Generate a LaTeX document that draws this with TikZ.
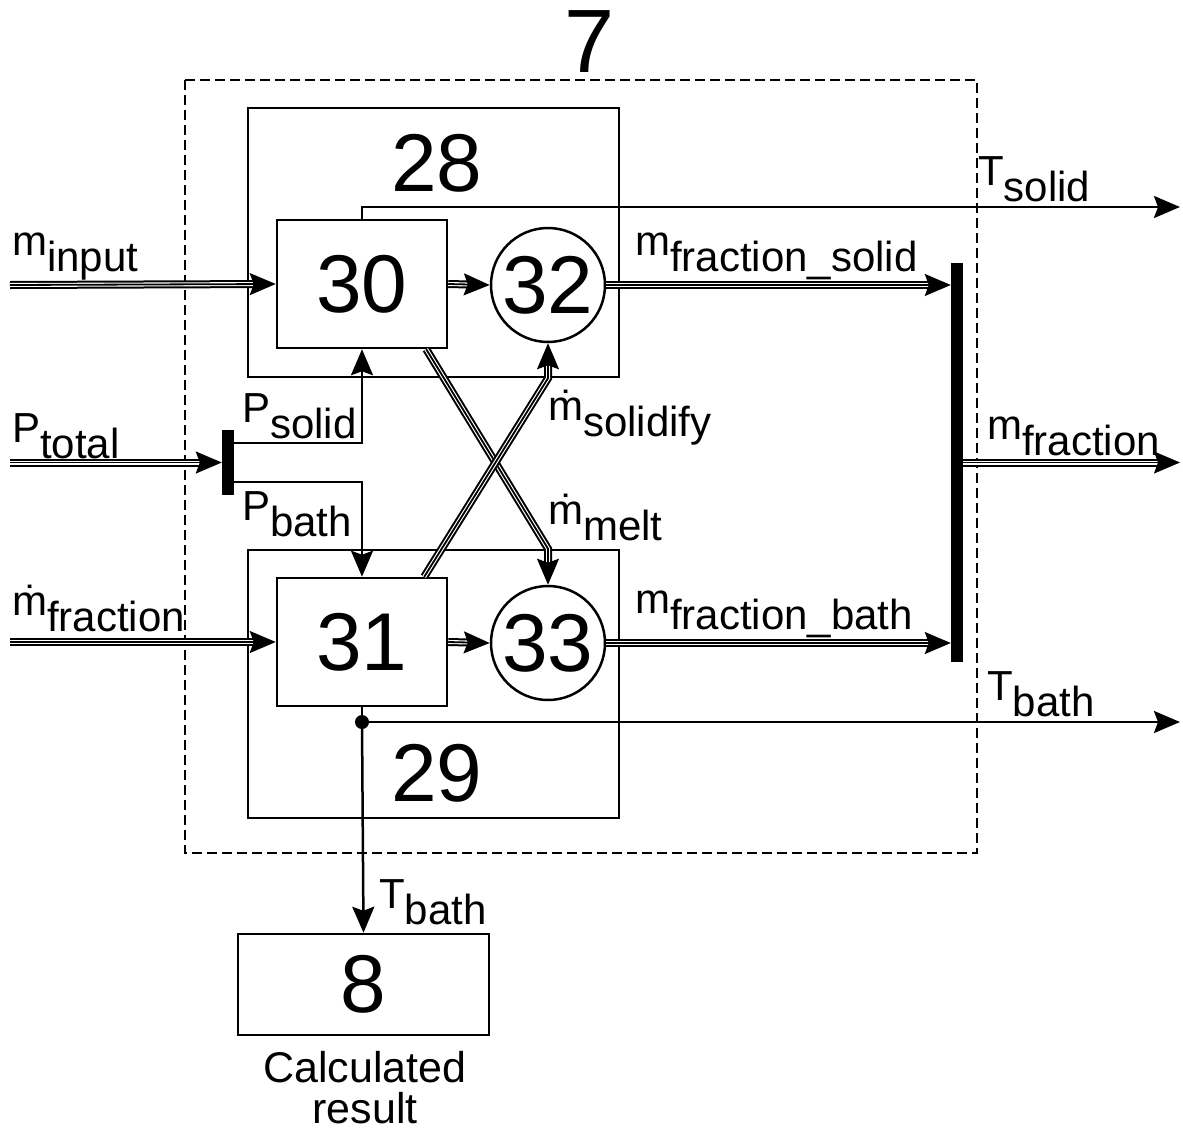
\documentclass[tikz,border=0pt]{standalone}
\usepackage{fontspec}
\setmainfont{Liberation Sans}
\usetikzlibrary{arrows.meta}
\newcommand\lowr[1]{\raisebox{-16pt}{#1}}

\begin{document}
\begin{tikzpicture}[x=1pt,y=-1pt,
  tip/.tip={Stealth[length=26pt,width=22pt,inset=4pt]},
  box/.style={draw,line width=2.5pt,rectangle,inner sep=0pt},
  ring/.style={draw,line width=2.5pt,circle,inner sep=0pt,minimum size=114pt},
  bar/.style={fill=black,rectangle,inner sep=0pt,minimum width=12pt},
  big/.style={font=\fontsize{82}{82}\selectfont},
  lbl/.style={font=\fontsize{42}{42}\selectfont,anchor=base west,inner sep=0pt},
  txt/.style={font=\fontsize{43}{43}\selectfont,anchor=base,inner sep=0pt},
  sig/.style={line width=2.5pt,-tip},
  flow/.style={line width=1.8pt,-tip,line join=miter,
    preaction={draw,-,line width=8pt,shorten >=18pt},
    preaction={draw,-,white,line width=4pt,shorten >=18pt}},
]
\useasboundingbox (0,0) rectangle (1183,1140);

% subsystem 7
\draw[line width=2.3pt,dash pattern=on 10pt off 5pt] (185,80) rectangle (977,853);
\node[font=\fontsize{90}{90}\selectfont] (n7) at (590,42) {7};

% blocks
\node[box,minimum width=371pt,minimum height=269pt] (b28) at (433.5,242.5) {};
\node[box,minimum width=371pt,minimum height=268pt] (b29) at (433.5,684) {};
\node[big] (l28) at (437,163) {28};
\node[big] (l29) at (437,773) {29};
\node[box,big,fill=white,minimum width=170pt,minimum height=128pt] (b30) at (362,284) {30};
\node[box,big,fill=white,minimum width=170pt,minimum height=128pt] (b31) at (362,642) {31};
\node[ring,big] (c32) at (548,285) {32};
\node[ring,big] (c33) at (548,643) {33};
\node[box,big,minimum width=251pt,minimum height=101pt] (b8) at (363.5,984.5) {8};
\node[txt] (res1) at (365,1082) {Calculated};
\node[txt] (res2) at (365,1123) {result};

% junction bars
\node[bar,minimum height=65pt] (barP) at (228,462.5) {};
\node[bar,minimum height=399pt] (barR) at (957,462.5) {};

% free ends
\coordinate (inM) at (10,285);
\coordinate (inP) at (10,462.5);
\coordinate (inF) at (10,642);
\coordinate (outTs) at (1180,207);
\coordinate (outM) at (1180,462.5);
\coordinate (outTb) at (1180,722);
\coordinate (ps) at (234,443);
\coordinate (pb) at (234,482);
\coordinate (tdot) at (362,722);

% material flows
\draw[flow] (inM) -- (b30.west);
\draw[flow] (inP) -- (barP.west);
\draw[flow] (inF) -- (b31.west);
\draw[flow] (b30.east) -- (c32.west);
\draw[flow] (b31.east) -- (c33.west);
\draw[flow] (c32.east) -- (c32.east -| barR.west);
\draw[flow] (c33.east) -- (c33.east -| barR.west);
\draw[flow] (barR.east) -- (outM);
\draw[flow] ([xshift=-22pt]b30.south east) -- (c33.north |- b29.north) -- (c33.north);
\draw[flow] ([xshift=-24pt]b31.north east) -- (c32.south |- b28.south) -- (c32.south);

% power split
\draw[sig] (ps) -| (b30.south);
\draw[sig] (pb) -| (b31.north);

% temperatures
\draw[sig] (b30.north) |- (outTs);
\draw[line width=2.5pt] (b31.south) -- (tdot);
\fill (tdot) circle (7pt);
\draw[sig] (tdot) -- (outTb);
\draw[sig] (tdot) -- (b8.north);

% labels
\node[lbl] at (12,255) {m\lowr{input}};
\node[lbl] at (12,442) {P\lowr{total}};
\node[lbl] at (12,615) {\.{m}\lowr{fraction}};
\node[lbl] at (242,422) {P\lowr{solid}};
\node[lbl] at (242,520) {P\lowr{bath}};
\node[lbl] at (548,420) {\.{m}\lowr{solidify}};
\node[lbl] at (548,524) {\.{m}\lowr{melt}};
\node[lbl] at (635,255) {m\lowr{fraction\_solid}};
\node[lbl] at (635,613) {m\lowr{fraction\_bath}};
\node[lbl] at (987,439) {m\lowr{fraction}};
\node[lbl] at (978,185) {T\lowr{solid}};
\node[lbl] at (987,700) {T\lowr{bath}};
\node[lbl] at (379,908) {T\lowr{bath}};
\end{tikzpicture}
\end{document}
